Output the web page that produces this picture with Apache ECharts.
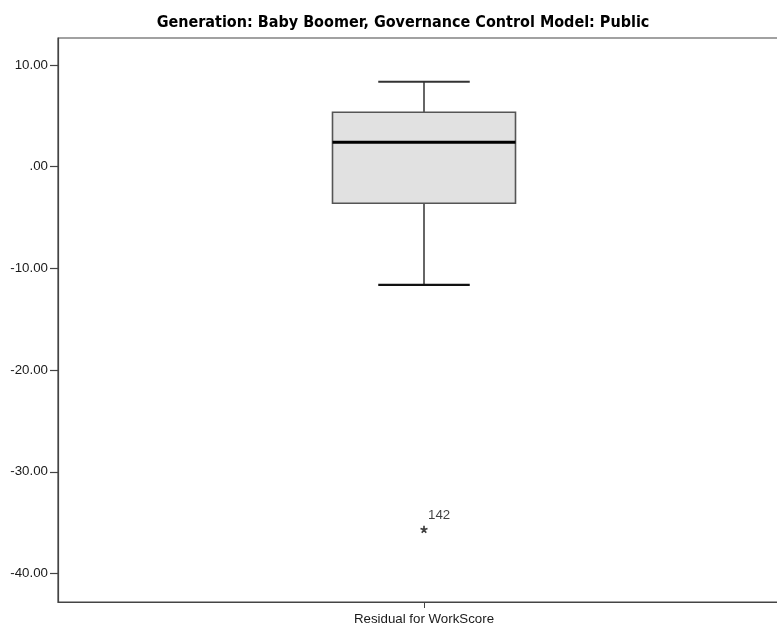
<!DOCTYPE html>
<html>
<head>
<meta charset="utf-8">
<script src="https://cdn.jsdelivr.net/npm/echarts@6/dist/echarts.min.js"></script>
<style>
  html, body { margin: 0; padding: 0; background: #fff; }
  #chart { width: 777px; height: 627px; }
</style>
</head>
<body>
<div id="chart"></div>
<script>
// Boxplot of residuals: one variable, five-number summary plus an extreme case
const categories = ['Residual for WorkScore'];
// [lower whisker, Q1, median, Q3, upper whisker]
const boxStats = [[-11.63, -3.60, 2.40, 5.35, 8.36]];
// extreme values: [category index, value, case id]
const extremes = [[0, -35.65, '142']];
const yTicks = [10, 0, -10, -20, -30, -40];
const titleText = 'Generation: Baby Boomer, Governance Control Model: Public';

const chart = echarts.init(document.getElementById('chart'), null, { renderer: 'canvas' });

function fmtTick(v) {
  if (v === 0) return '.00';
  return v.toFixed(2);
}

const labelFont = "'Liberation Sans', Arial, sans-serif";

const option = {
  animation: false,
  backgroundColor: '#ffffff',
  title: {
    text: titleText,
    left: 398,
    textAlign: 'center',
    top: 10,
    textStyle: {
      fontFamily: "'DejaVu Sans Condensed', 'Liberation Sans Narrow', 'Arial Narrow', sans-serif",
      fontWeight: 'bold',
      fontSize: 16,
      color: '#000'
    }
  },
  grid: {
    left: 58, top: 38, right: -13, bottom: 25,
    outerBoundsMode: 'none',
    show: true,
    borderColor: '#444',
    borderWidth: 1.2,
    backgroundColor: 'transparent'
  },
  xAxis: {
    type: 'category',
    data: categories,
    boundaryGap: true,
    axisLine: { show: true, onZero: false, lineStyle: { color: '#444', width: 1.2 } },
    axisTick: { show: true, alignWithLabel: true, length: 6, lineStyle: { color: '#444' } },
    axisLabel: {
      margin: 11,
      fontFamily: labelFont,
      fontSize: 13.3,
      color: '#1a1a1a'
    },
    splitLine: { show: false }
  },
  yAxis: {
    type: 'value',
    min: -42.8,
    max: 12.65,
    axisLine: { show: true, lineStyle: { color: '#444', width: 1.2 } },
    axisTick: {
      show: true, length: 8, customValues: yTicks,
      lineStyle: { color: '#444', width: 1.2 }
    },
    axisLabel: {
      customValues: yTicks,
      formatter: fmtTick,
      margin: 10,
      fontFamily: labelFont,
      fontSize: 13.3,
      color: '#1a1a1a'
    },
    splitLine: { show: false }
  },
  series: [
    {
      type: 'custom',
      name: 'box',
      data: boxStats.map((s, i) => [i].concat(s)),
      encode: { x: 0, y: [1, 2, 3, 4, 5] },
      renderItem: function (params, api) {
        const idx = api.value(0);
        const band = api.size([1, 0])[0];
        const halfBox = band * 0.125;
        const halfCap = band * 0.0625;
        const cx = api.coord([idx, 0])[0];
        const yLow = api.coord([idx, api.value(1)])[1];
        const yQ1 = api.coord([idx, api.value(2)])[1];
        const yMed = api.coord([idx, api.value(3)])[1];
        const yQ3 = api.coord([idx, api.value(4)])[1];
        const yHigh = api.coord([idx, api.value(5)])[1];
        return {
          type: 'group',
          children: [
            { type: 'line', shape: { x1: cx, y1: yQ3, x2: cx, y2: yHigh },
              style: { stroke: '#333', lineWidth: 1.5 } },
            { type: 'line', shape: { x1: cx, y1: yQ1, x2: cx, y2: yLow },
              style: { stroke: '#333', lineWidth: 1.5 } },
            { type: 'line', shape: { x1: cx - halfCap, y1: yHigh, x2: cx + halfCap, y2: yHigh },
              style: { stroke: '#333', lineWidth: 2 } },
            { type: 'line', shape: { x1: cx - halfCap, y1: yLow, x2: cx + halfCap, y2: yLow },
              style: { stroke: '#111', lineWidth: 2.2 } },
            { type: 'rect', shape: { x: cx - halfBox, y: yQ3, width: halfBox * 2, height: yQ1 - yQ3 },
              style: { fill: '#e1e1e1', stroke: '#555', lineWidth: 1.6 } },
            { type: 'line', shape: { x1: cx - halfBox, y1: yMed, x2: cx + halfBox, y2: yMed },
              style: { stroke: '#000', lineWidth: 2.8 } }
          ]
        };
      }
    },
    {
      type: 'scatter',
      name: 'extremes',
      data: extremes.map(e => ({ value: [e[0], e[1]], caseId: e[2] })),
      symbol: 'path://M0,0L0,-4M0,0L3.8,-1.24M0,0L2.35,3.24M0,0L-2.35,3.24M0,0L-3.8,-1.24',
      symbolSize: [7, 7],
      itemStyle: { color: 'none', borderColor: '#111', borderWidth: 1.7 },
      label: {
        show: true,
        formatter: p => p.data.caseId,
        position: 'right',
        offset: [-7, -14],
        fontFamily: labelFont,
        fontSize: 13.3,
        color: '#111'
      }
    }
  ]
};

chart.setOption(option);
</script>
</body>
</html>
